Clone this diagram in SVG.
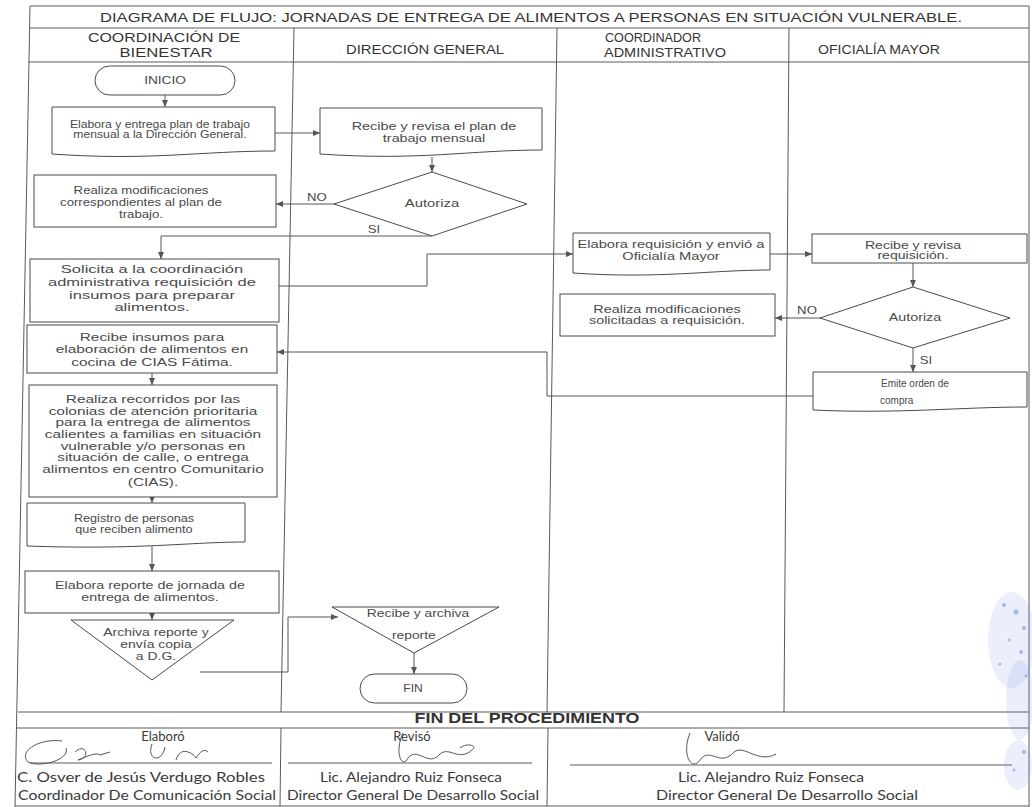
<svg xmlns="http://www.w3.org/2000/svg" width="1032" height="807" viewBox="0 0 1032 807">
<style>
.frame{stroke:#5a5a5a;stroke-width:1;fill:none}
.shape{stroke:#4a4a4a;stroke-width:1;fill:#fff}
.conn{stroke:#555;stroke-width:1;fill:none}
.t{font-family:"Liberation Sans",Arial,sans-serif;font-size:10px;fill:#4a4a4a;text-anchor:middle}
.lb{font-family:"Liberation Sans",Arial,sans-serif;font-size:11px;fill:#4a4a4a;text-anchor:middle}
.h{font-family:"Liberation Sans",Arial,sans-serif;font-size:13.5px;fill:#333;text-anchor:middle}
.title{font-family:"Liberation Sans",Arial,sans-serif;font-size:12.5px;fill:#333;text-anchor:middle}
.lbl{font-family:"Liberation Sans",Arial,sans-serif;font-size:10px;fill:#4a4a4a}
.fin{font-family:"Liberation Sans",Arial,sans-serif;font-size:14px;font-weight:bold;fill:#333;text-anchor:middle}
.sig{font-family:Lato,"Open Sans",sans-serif;font-size:13px;fill:#3a3a3a;text-anchor:middle}
.scrib{stroke:#555;stroke-width:1;fill:none}
.stamp{fill:#6d8fe0;opacity:0.14}
.speck{fill:#4f74d6;opacity:0.45}
</style>
<defs>
<marker id="ah" markerWidth="8" markerHeight="8" refX="7" refY="4" orient="auto" markerUnits="userSpaceOnUse">
<path d="M0,1 L7,4 L0,7 Z" fill="#555"/>
</marker>
</defs>
<rect x="0" y="0" width="1032" height="807" fill="#fff"/>

<g id="frame">
<line class="frame" x1="30" y1="6" x2="1029" y2="6"/>
<line class="frame" x1="30" y1="6" x2="15" y2="807"/>
<line class="frame" x1="1029" y1="6" x2="1029" y2="807"/>
<line class="frame" x1="29" y1="28" x2="1029" y2="28"/>
<line class="frame" x1="28" y1="62" x2="1029" y2="62"/>
<line class="frame" x1="18" y1="712" x2="1029" y2="712"/>
<line class="frame" x1="17" y1="728" x2="1029" y2="728"/>
<line class="frame" x1="15" y1="806" x2="1029" y2="806"/>
<line class="frame" x1="294" y1="28" x2="281" y2="712"/>
<line class="frame" x1="557" y1="28" x2="547" y2="712"/>
<line class="frame" x1="789" y1="28" x2="784" y2="712"/>
<line class="frame" x1="281" y1="728" x2="280" y2="806"/>
<line class="frame" x1="548" y1="728" x2="547" y2="806"/>
</g>

<g id="title">
<text class="title" x="531" y="22" textLength="862" lengthAdjust="spacingAndGlyphs">DIAGRAMA DE FLUJO: JORNADAS DE ENTREGA DE ALIMENTOS A PERSONAS EN SITUACIÓN VULNERABLE.</text>
</g>

<g id="headers">
<text class="h" x="164" y="42" textLength="152" lengthAdjust="spacingAndGlyphs">COORDINACIÓN DE</text>
<text class="h" x="166" y="57" textLength="93" lengthAdjust="spacingAndGlyphs">BIENESTAR</text>
<text class="h" x="425" y="54" textLength="158" lengthAdjust="spacingAndGlyphs">DIRECCIÓN GENERAL</text>
<text class="h" x="653" y="42" textLength="96" lengthAdjust="spacingAndGlyphs">COORDINADOR</text>
<text class="h" x="665" y="57" textLength="122" lengthAdjust="spacingAndGlyphs">ADMINISTRATIVO</text>
<text class="h" x="879" y="54" textLength="122" lengthAdjust="spacingAndGlyphs">OFICIALÍA MAYOR</text>
</g>

<g id="connectors">
<line class="conn" x1="165" y1="95" x2="165" y2="107" marker-end="url(#ah)"/>
<line class="conn" x1="275" y1="133" x2="320" y2="133" marker-end="url(#ah)"/>
<line class="conn" x1="432" y1="157" x2="432" y2="172" marker-end="url(#ah)"/>
<line class="conn" x1="334" y1="204" x2="276" y2="204" marker-end="url(#ah)"/>
<polyline class="conn" points="432,236 161,236 161,259" marker-end="url(#ah)"/>
<polyline class="conn" points="279,286 427,286 427,254 573,254" marker-end="url(#ah)"/>
<line class="conn" x1="770" y1="254" x2="812" y2="254" marker-end="url(#ah)"/>
<line class="conn" x1="913" y1="263" x2="913" y2="287" marker-end="url(#ah)"/>
<line class="conn" x1="820" y1="318" x2="775" y2="318" marker-end="url(#ah)"/>
<line class="conn" x1="913" y1="348" x2="913" y2="372" marker-end="url(#ah)"/>
<polyline class="conn" points="813,396 547,396 547,352 277,352" marker-end="url(#ah)"/>
<line class="conn" x1="152" y1="373" x2="152" y2="385" marker-end="url(#ah)"/>
<line class="conn" x1="152" y1="497" x2="152" y2="503" marker-end="url(#ah)"/>
<line class="conn" x1="152" y1="546" x2="152" y2="571" marker-end="url(#ah)"/>
<line class="conn" x1="152" y1="613" x2="152" y2="620" marker-end="url(#ah)"/>
<polyline class="conn" points="200,672 288,672 288,617 338,617" marker-end="url(#ah)"/>
<line class="conn" x1="414" y1="653" x2="414" y2="674" marker-end="url(#ah)"/>
</g>

<g id="inicio">
<rect class="shape" x="95" y="66" width="140" height="29" rx="14.5"/>
<g transform="matrix(1.3,0,0,1,-49.5,0)"><text class="t" x="165" y="84.5" style="font-size:10.5px">INICIO</text></g>
</g>

<g id="elabora-plan">
<path class="shape" d="M52,107 H275 V151 C200,151 150,161 52,154 Z"/>
<g transform="matrix(1.22,0,0,1,-35.2,0)">
<text class="t" x="160" y="128">Elabora y entrega plan de trabajo</text>
<text class="t" x="160" y="138.5">mensual a la Dirección General.</text>
</g>
</g>

<g id="recibe-plan">
<path class="shape" d="M320,108 H542 V150 C470,150 420,161 320,154 Z"/>
<g transform="matrix(1.44,0,0,1,-190.96,0)">
<text class="t" x="434" y="130">Recibe y revisa el plan de</text>
<text class="t" x="434" y="142">trabajo mensual</text>
</g>
</g>

<g id="autoriza-dg">
<polygon class="shape" points="334,204 432,172 527,204 432,236"/>
<g transform="matrix(1.48,0,0,1,-207.36,0)"><text class="t" x="432" y="207.5">Autoriza</text></g>
<g transform="matrix(1.2,0,0,1,-63.4,0)"><text class="lb" x="317" y="201">NO</text></g>
<g transform="matrix(1.2,0,0,1,-74.8,0)"><text class="lb" x="374" y="233">SI</text></g>
</g>

<g id="modif-plan">
<rect class="shape" x="34" y="175" width="242" height="52"/>
<g transform="matrix(1.32,0,0,1,-45.12,0)">
<text class="t" x="141" y="194.5">Realiza modificaciones</text>
<text class="t" x="141" y="206.5">correspondientes al plan de</text>
<text class="t" x="141" y="218.5">trabajo.</text>
</g>
</g>

<g id="solicita">
<rect class="shape" x="30" y="259" width="249" height="63"/>
<g transform="matrix(1.65,0,0,1,-98.8,0)">
<text class="t" x="152" y="273.5">Solicita a la coordinación</text>
<text class="t" x="152" y="286.5">administrativa requisición de</text>
<text class="t" x="152" y="299.5">insumos para preparar</text>
<text class="t" x="152" y="311.5">alimentos.</text>
</g>
</g>

<g id="elabora-requisicion">
<path class="shape" d="M573,233 H770 V270 C710,270 660,279 573,273 Z"/>
<g transform="matrix(1.463,0,0,1,-310.67,0)">
<text class="t" x="671" y="248.5">Elabora requisición y envió a</text>
<text class="t" x="671" y="260.5">Oficialía Mayor</text>
</g>
</g>

<g id="recibe-requisicion">
<rect class="shape" x="812" y="234" width="215" height="29"/>
<g transform="matrix(1.408,0,0,1,-372.5,0)">
<text class="t" x="913" y="249">Recibe y revisa</text>
<text class="t" x="913" y="259.5">requisición.</text>
</g>
</g>

<g id="autoriza-om">
<polygon class="shape" points="820,318 913,287 1010,318 913,348"/>
<g transform="matrix(1.43,0,0,1,-393.45,0)"><text class="t" x="915" y="321.5">Autoriza</text></g>
<g transform="matrix(1.2,0,0,1,-161.4,0)"><text class="lb" x="807" y="314">NO</text></g>
<g transform="matrix(1.2,0,0,1,-185.2,0)"><text class="lb" x="926" y="364">SI</text></g>
</g>

<g id="modif-requisicion">
<rect class="shape" x="560" y="294" width="215" height="42"/>
<g transform="matrix(1.441,0,0,1,-294.15,0)">
<text class="t" x="667" y="313.5">Realiza modificaciones</text>
<text class="t" x="667" y="324.5">solicitadas a requisición.</text>
</g>
</g>

<g id="emite-orden">
<path class="shape" d="M813,372 H1027 V407 C960,407 900,414 813,410 Z"/>
<text class="lbl" x="881" y="387">Emite orden de</text>
<text class="lbl" x="880" y="404">compra</text>
</g>

<g id="recibe-insumos">
<rect class="shape" x="27" y="325" width="250" height="48"/>
<g transform="matrix(1.54,0,0,1,-82.08,0)">
<text class="t" x="152" y="341">Recibe insumos para</text>
<text class="t" x="152" y="353">elaboración de alimentos en</text>
<text class="t" x="152" y="366">cocina de CIAS Fátima.</text>
</g>
</g>

<g id="recorridos">
<rect class="shape" x="29" y="385" width="248" height="112"/>
<g transform="matrix(1.54,0,0,1,-82.62,0)">
<text class="t" x="153" y="403.5">Realiza recorridos por las</text>
<text class="t" x="153" y="415.5">colonias de atención prioritaria</text>
<text class="t" x="153" y="426.5">para la entrega de alimentos</text>
<text class="t" x="153" y="438.5">calientes a familias en situación</text>
<text class="t" x="153" y="450">vulnerable y/o personas en</text>
<text class="t" x="153" y="461.5">situación de calle, o entrega</text>
<text class="t" x="153" y="473">alimentos en centro Comunitario</text>
<text class="t" x="153" y="486">(CIAS).</text>
</g>
</g>

<g id="registro">
<path class="shape" d="M27,503 H245 V542 C190,542 140,550 27,546 Z"/>
<g transform="matrix(1.265,0,0,1,-35.51,0)">
<text class="t" x="134" y="522">Registro de personas</text>
<text class="t" x="134" y="533">que reciben alimento</text>
</g>
</g>

<g id="elabora-reporte">
<rect class="shape" x="25" y="571" width="254" height="42"/>
<g transform="matrix(1.43,0,0,1,-64.5,0)">
<text class="t" x="150" y="589.5">Elabora reporte de jornada de</text>
<text class="t" x="150" y="601.5">entrega de alimentos.</text>
</g>
</g>

<g id="archiva-reporte">
<polygon class="shape" points="71,620 234,620 152,680"/>
<g transform="matrix(1.397,0,0,1,-61.93,0)">
<text class="t" x="156" y="636.5">Archiva reporte y</text>
<text class="t" x="156" y="648.5">envía copia</text>
<text class="t" x="156" y="660.5">a D.G.</text>
</g>
</g>

<g id="recibe-archiva">
<polygon class="shape" points="332,607 499,607 414,653"/>
<g transform="matrix(1.386,0,0,1,-161.35,0)">
<text class="t" x="418" y="617">Recibe y archiva</text>
<text class="t" x="415" y="639">reporte</text>
</g>
</g>

<g id="fin">
<rect class="shape" x="360" y="674" width="107" height="29" rx="14.5"/>
<g transform="matrix(1.15,0,0,1,-61.95,0)"><text class="t" x="413" y="692.5" style="font-size:10.5px">FIN</text></g>
</g>

<g id="footer">
<text class="fin" x="527" y="723" textLength="225" lengthAdjust="spacingAndGlyphs">FIN DEL PROCEDIMIENTO</text>
<text class="sig" x="163" y="741">Elaboró</text>
<text class="sig" x="412" y="741">Revisó</text>
<text class="sig" x="722" y="741">Validó</text>
<line class="frame" x1="30" y1="763" x2="272" y2="763"/>
<line class="frame" x1="288" y1="763" x2="532" y2="763"/>
<line class="frame" x1="570" y1="765" x2="1012" y2="765"/>
<text class="sig" x="141" y="782" textLength="248" lengthAdjust="spacingAndGlyphs">C. Osver de Jesús Verdugo Robles</text>
<text class="sig" x="147" y="800" textLength="258" lengthAdjust="spacingAndGlyphs">Coordinador De Comunicación Social</text>
<text class="sig" x="411" y="782" textLength="182" lengthAdjust="spacingAndGlyphs">Lic. Alejandro Ruiz Fonseca</text>
<text class="sig" x="413" y="800" textLength="252" lengthAdjust="spacingAndGlyphs">Director General De Desarrollo Social</text>
<text class="sig" x="771" y="782" textLength="186" lengthAdjust="spacingAndGlyphs">Lic. Alejandro Ruiz Fonseca</text>
<text class="sig" x="787" y="800" textLength="262" lengthAdjust="spacingAndGlyphs">Director General De Desarrollo Social</text>
<path class="scrib" d="M62,741 C38,738 18,752 28,762 C40,768 70,760 66,748 M75,752 C85,742 92,758 78,760 C88,756 96,752 100,755 L110,752 M152,744 C146,760 162,764 165,747 M176,760 C180,746 192,752 196,758 C200,752 204,748 208,752"/>
<path class="scrib" d="M403,733 C394,752 402,770 408,758 C418,746 428,768 440,754 C450,746 458,762 472,750 C478,746 468,742 460,748"/>
<path class="scrib" d="M690,733 C681,755 692,772 700,760 C710,746 720,768 734,752 C744,744 758,764 776,754"/>
</g>

<g id="stamp">
<ellipse class="stamp" cx="1012" cy="640" rx="24" ry="48"/>
<ellipse class="stamp" cx="1020" cy="700" rx="14" ry="40"/>
<ellipse class="stamp" cx="1018" cy="765" rx="14" ry="25"/>
<circle class="speck" cx="1004" cy="605" r="2"/>
<circle class="speck" cx="1016" cy="612" r="2.5"/>
<circle class="speck" cx="1024" cy="628" r="2"/>
<circle class="speck" cx="1009" cy="640" r="1.5"/>
<circle class="speck" cx="1021" cy="652" r="2"/>
<circle class="speck" cx="1000" cy="664" r="1.5"/>
<circle class="speck" cx="1026" cy="676" r="1.5"/>
<circle class="speck" cx="1024" cy="752" r="2"/>
<circle class="speck" cx="1014" cy="770" r="1.5"/>
</g>
</svg>
